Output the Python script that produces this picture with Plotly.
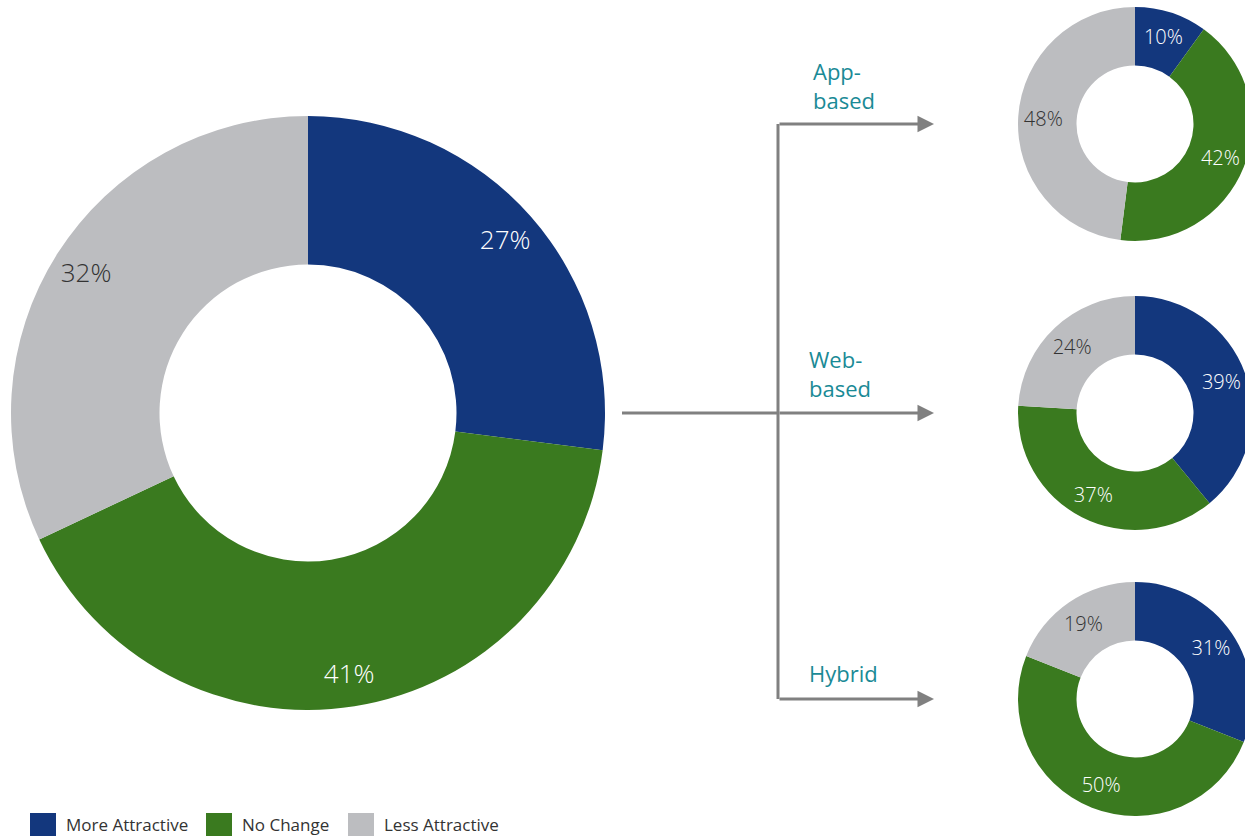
import plotly.graph_objects as go

# ---------------- data ----------------
categories = ["More Attractive", "No Change", "Less Attractive"]
overall = [27, 41, 32]
app_based = [10, 42, 48]
web_based = [39, 37, 24]
hybrid = [31, 50, 19]
channel_labels = ["App-<br>based", "Web-<br>based", "Hybrid"]

# ---------------- style ----------------
colors = ["#13377D", "#3A7A1F", "#BCBDC0"]
text_colors = ["#FFFFFF", "#FFFFFF", "#333333"]
teal = "#1A8A96"
line_gray = "#808080"
FONT = "Open Sans"

W, H = 1260, 838


def dom(cx, cy, r):
    return dict(x=[(cx - r) / W, (cx + r) / W], y=[1 - (cy + r) / H, 1 - (cy - r) / H])


def px(x, y):
    return x / W, 1 - y / H


fig = go.Figure()

big = dict(cx=308, cy=413, r=297, label_hole=0.77, fs=26)
smalls = [
    dict(cx=1135, cy=124, r=117, vals=app_based),
    dict(cx=1135, cy=413, r=117, vals=web_based),
    dict(cx=1135, cy=699, r=117, vals=hybrid),
]


def add_donut(vals, cx, cy, r, label_hole, fs):
    d = dom(cx, cy, r)
    fig.add_trace(go.Pie(
        labels=categories, values=vals, hole=0.5, sort=False, direction="clockwise",
        rotation=0, marker=dict(colors=colors, line=dict(width=0)), textinfo="none",
        domain=d, showlegend=False, hoverinfo="label+percent",
    ))
    fig.add_trace(go.Pie(
        labels=categories, values=vals, hole=label_hole, sort=False, direction="clockwise",
        rotation=0, marker=dict(colors=["rgba(0,0,0,0)"] * 3, line=dict(width=0)),
        texttemplate="%{value}%", textposition="inside", insidetextorientation="horizontal",
        insidetextfont=dict(family=FONT, size=fs, color=text_colors, weight=300),
        domain=d, showlegend=False, hoverinfo="skip",
    ))


add_donut(overall, big["cx"], big["cy"], big["r"], big["label_hole"], big["fs"])
for s in smalls:
    add_donut(s["vals"], s["cx"], s["cy"], s["r"], 0.57, 20)

shapes = []
annotations = []

# connector lines
x_start, x_split, x_tip = 622, 778, 934
y_main = 413
ys = [s["cy"] for s in smalls]
x0, y0 = px(x_start, y_main)
x1, y1 = px(x_split, y_main)
shapes.append(dict(type="line", xref="paper", yref="paper", x0=x0, y0=y0, x1=x1, y1=y1,
                   line=dict(color=line_gray, width=3)))
xa, ya = px(x_split, ys[0])
xb, yb = px(x_split, ys[-1])
shapes.append(dict(type="line", xref="paper", yref="paper", x0=xa, y0=ya, x1=xb, y1=yb,
                   line=dict(color=line_gray, width=3)))
for y in ys:
    tx, ty = px(x_tip, y)
    annotations.append(dict(xref="paper", yref="paper", x=tx, y=ty, text="",
                            showarrow=True, ax=-(x_tip - x_split), ay=0, axref="pixel", ayref="pixel",
                            arrowhead=2, arrowsize=1.1, arrowwidth=3, arrowcolor=line_gray,
                            standoff=0, startstandoff=0))

# channel labels
label_pos = [(811, 85), (807, 373), (807, 673)]
for txt, (lx, ly) in zip(channel_labels, label_pos):
    ax_, ay_ = px(lx, ly)
    annotations.append(dict(xref="paper", yref="paper", x=ax_, y=ay_, text=txt, showarrow=False,
                            xanchor="left", yanchor="middle", align="left",
                            font=dict(family=FONT, size=22, color=teal)))

# custom legend
leg_x = [30, 206, 348]
for cat, col, lx in zip(categories, colors, leg_x):
    rx0, ry0 = px(lx, 836)
    rx1, ry1 = px(lx + 26, 813)
    shapes.append(dict(type="rect", xref="paper", yref="paper", x0=rx0, y0=ry0, x1=rx1, y1=ry1,
                       fillcolor=col, line=dict(width=0)))
    tx, ty = px(lx + 34, 824)
    annotations.append(dict(xref="paper", yref="paper", x=tx, y=ty, text=cat, showarrow=False,
                            xanchor="left", yanchor="middle",
                            font=dict(family=FONT, size=17, color="#333333")))

fig.update_layout(
    width=W, height=H, margin=dict(l=0, r=0, t=0, b=0),
    paper_bgcolor="white", plot_bgcolor="white",
    shapes=shapes, annotations=annotations,
    font=dict(family=FONT),
    showlegend=False,
)

fig.write_html("out.html", config={"displayModeBar": False},
               post_script="document.body.style.margin='0';document.body.style.overflow='hidden';")
